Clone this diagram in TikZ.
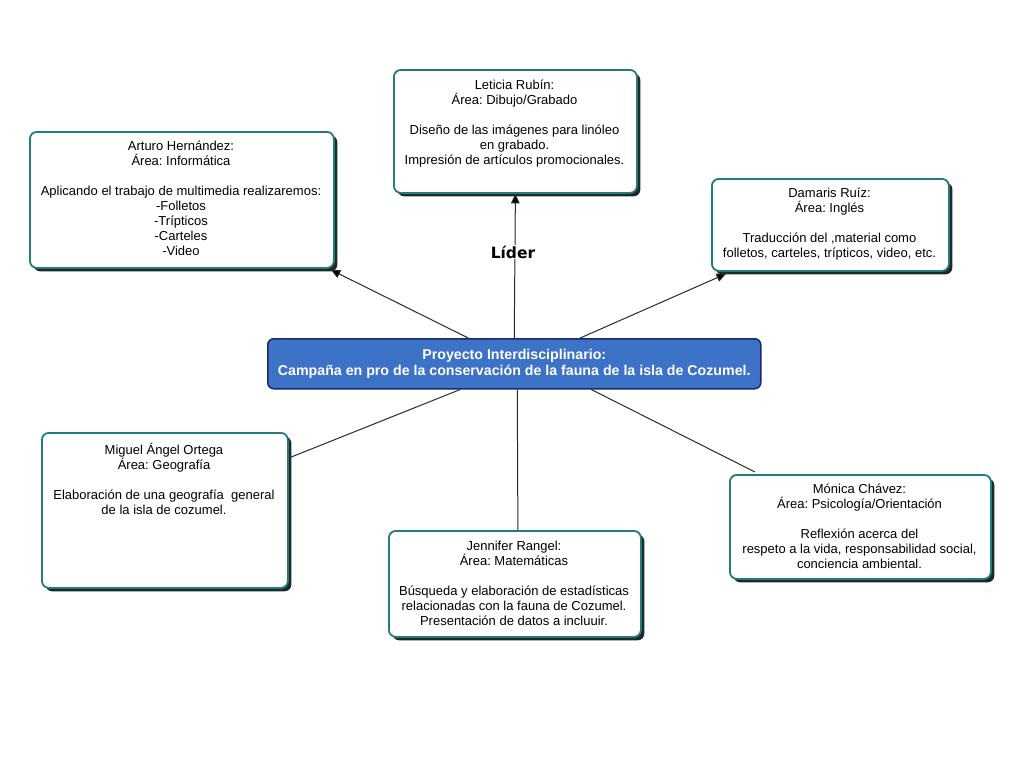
\documentclass[tikz,border=0pt]{standalone}
\usepackage{fontspec}
\setmainfont{Liberation Sans}
\newfontfamily\liderfont{DejaVu Sans}
\usetikzlibrary{shadows,arrows.meta}
\definecolor{tealb}{HTML}{237C7A}
\definecolor{shad}{HTML}{1E2A2A}
\definecolor{cfill}{HTML}{3D73C6}
\definecolor{cborder}{HTML}{1B2A66}
\definecolor{lin}{HTML}{2A2A2A}
\frenchspacing
\begin{document}
\begin{tikzpicture}[x=1pt,y=-1pt,
  box/.style={draw=tealb, line width=1.8pt, fill=white, rounded corners=7pt, anchor=north west,
    drop shadow={shadow xshift=3.5pt, shadow yshift=-3.5pt, fill=shad, opacity=1}},
  txt/.style={anchor=north, align=center, inner sep=0pt, font=\fontsize{13}{15}\selectfont},
  arr/.style={draw=lin, line width=1pt, -{Triangle[width=8.5pt,length=9.5pt,fill=black]}},
  con/.style={draw=lin, line width=1pt}]
\useasboundingbox (0,0) rectangle (1024,768);
\fill[white] (0,0) rectangle (1024,768);

% boxes
\node[box, minimum width=243, minimum height=123] (let) at (393,69) {};
\node[txt] (lett) at (514.5,80) {Leticia Rubín:\\Área: Dibujo/Grabado\\[15pt]Diseño de las imágenes para linóleo\\en grabado.\\Impresión de artículos promocionales.};

\node[box, minimum width=304, minimum height=136] (art) at (29,131) {};
\node[txt] (artt) at (181,141) {Arturo Hernández:\\Área: Informática\\[15pt]Aplicando el trabajo de multimedia realizaremos:\\-Folletos\\-Trípticos\\-Carteles\\-Video};

\node[box, minimum width=237, minimum height=92] (dam) at (711,178) {};
\node[txt] (damt) at (829.5,188) {Damaris Ruíz:\\Área: Inglés\\[15pt]Traducción del ,material como\\folletos, carteles, trípticos, video, etc.};

\node[box, minimum width=246, minimum height=155] (mig) at (41,432) {};
\node[txt] (migt) at (164,443) {Miguel Ángel Ortega\\Área: Geografía\\[15pt]Elaboración de una geografía\ \ general\\de la isla de cozumel.};

\node[box, minimum width=252, minimum height=106] (jen) at (388,530) {};
\node[txt] (jent) at (514,541) {Jennifer Rangel:\\Área: Matemáticas\\[15pt]Búsqueda y elaboración de estadísticas\\relacionadas con la fauna de Cozumel.\\Presentación de datos a incluuir.};

\node[box, minimum width=261, minimum height=104] (mon) at (729,474) {};
\node[txt] (mont) at (859.5,484) {Mónica Chávez:\\Área: Psicología/Orientación\\[15pt]Reflexión acerca del\\respeto a la vida, responsabilidad social,\\conciencia ambiental.};

% center
\node[draw=cborder, line width=1.5pt, fill=cfill, rounded corners=6pt, minimum width=493, minimum height=50,
  align=center, text=white, font=\bfseries\fontsize{14.2}{16}\selectfont, anchor=north west] (c) at (267,338)
  {Proyecto Interdisciplinario:\\Campaña en pro de la conservación de la fauna de la isla de Cozumel.};

% connectors
\draw[arr] ([xshift=-46pt]c.north) -- ([xshift=-4pt,yshift=-1pt]art.south east);
\draw[arr] (c.north) -- (let.south);
\draw[arr] ([xshift=66pt]c.north) -- ([xshift=15pt,yshift=-2pt]dam.south west);
\draw[con] ([xshift=-54pt]c.south) -- ([yshift=-26pt]mig.north east);
\draw[con] ([xshift=3pt]c.south) -- ([xshift=3pt]jen.north);
\draw[con] ([xshift=77pt]c.south) -- ([xshift=26pt,yshift=2pt]mon.north west);

\node[fill=white, inner sep=1pt, font=\liderfont\bfseries\fontsize{15.5}{17}\selectfont] (lider) at (513,252) {Líder};
\end{tikzpicture}
\end{document}
